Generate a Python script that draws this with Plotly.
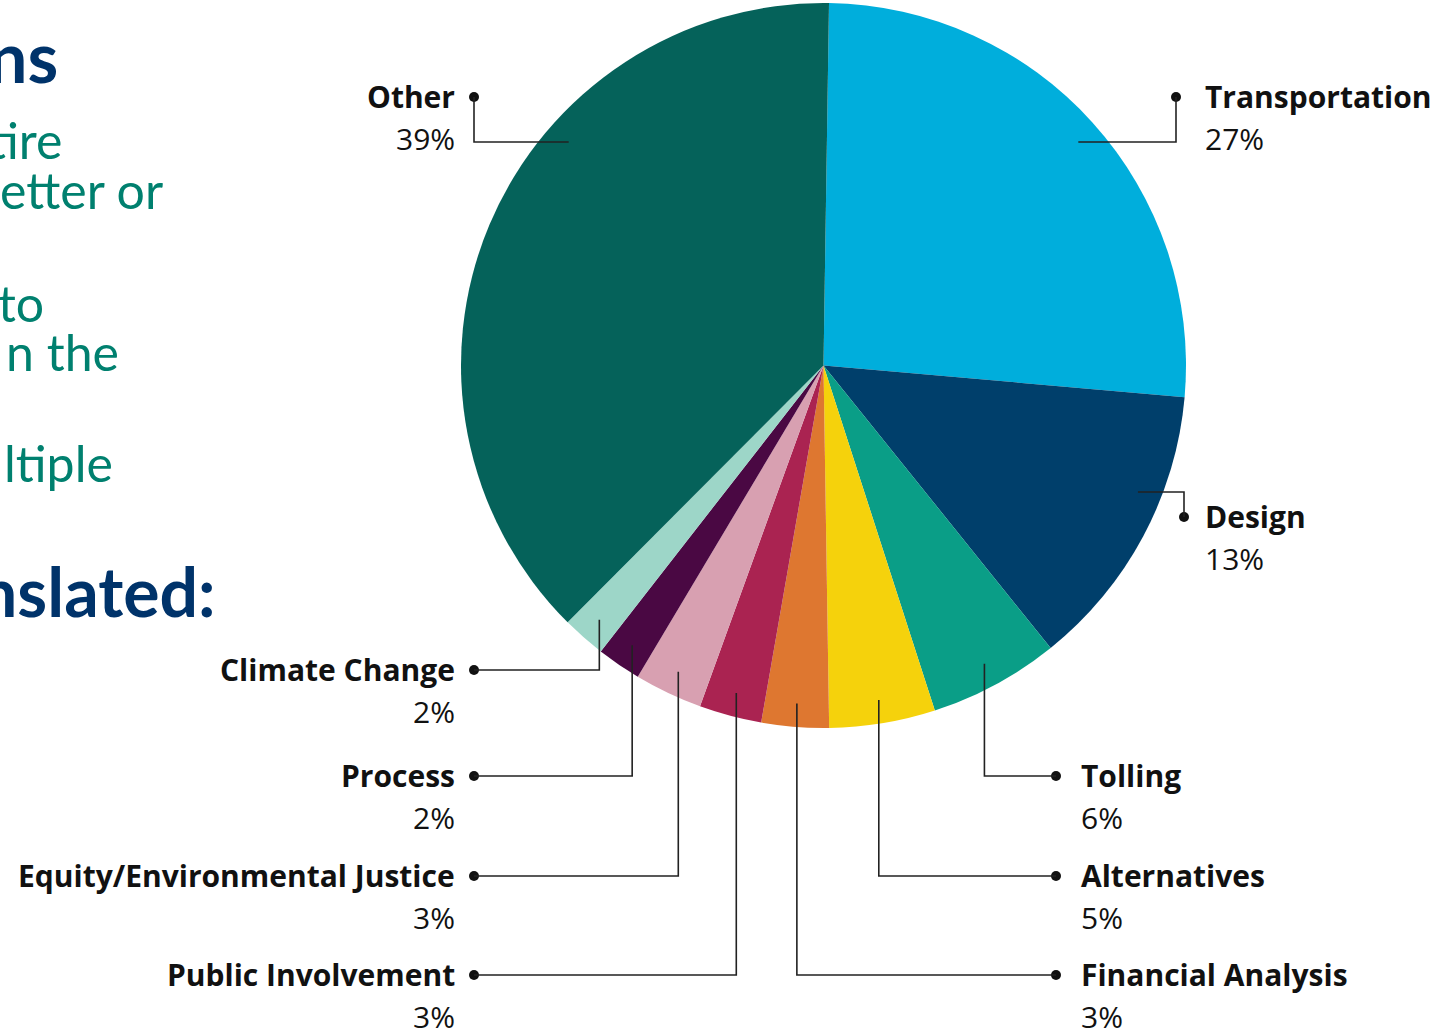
import math
import plotly.graph_objects as go

# ---------------- data ----------------
categories = ["Transportation", "Design", "Tolling", "Alternatives", "Financial Analysis",
              "Public Involvement", "Equity/Environmental Justice", "Process",
              "Climate Change", "Other"]
values = [26.15, 12.83, 5.81, 4.72, 3.00, 2.78, 3.03, 1.97, 1.94, 37.77]
pct_labels = ["27%", "13%", "6%", "5%", "3%", "3%", "3%", "2%", "2%", "39%"]
colors = ["#00AEDC", "#003F6B", "#0A9E87", "#F5D20C", "#DE7730", "#AA2351",
          "#D8A0B1", "#4A0843", "#9DD6C8", "#05625A"]

# cropped side text (visible fragments only)
side_texts = ["ns", "tire", "etter or", "to", "n the", "ltiple", "nslated:"]

# ---------------- layout constants ----------------
W, H = 1435, 1029
CX, CY, R = 823.5, 365.5, 362.5
ROT = 0.87
LABEL_FONT = "Open Sans"
SIDE_FONT = "Lato"
INK = "#111111"

# label layout: side, dot position, elbow kind/position
label_layout = {
    "Transportation": dict(side="r", dot=(1176, 97), kind="h", ey=142, tx=1203),
    "Design": dict(side="r", dot=(1184, 517), kind="h", ey=492, tx=1203),
    "Tolling": dict(side="r", dot=(1056, 776), kind="v", tx=1079),
    "Alternatives": dict(side="r", dot=(1056, 876), kind="v", tx=1079),
    "Financial Analysis": dict(side="r", dot=(1056, 975), kind="v", tx=1079),
    "Public Involvement": dict(side="l", dot=(474, 975), kind="v", tx=457),
    "Equity/Environmental Justice": dict(side="l", dot=(474, 876), kind="v", tx=457),
    "Process": dict(side="l", dot=(474, 776), kind="v", tx=457),
    "Climate Change": dict(side="l", dot=(474, 670), kind="v", tx=457),
    "Other": dict(side="l", dot=(474, 97), kind="h", ey=142, tx=457),
}

fig = go.Figure()

fig.add_trace(go.Pie(
    labels=categories, values=values, sort=False, direction="clockwise",
    rotation=ROT, marker=dict(colors=colors, line=dict(width=0)),
    textinfo="none", hoverinfo="label+percent", showlegend=False,
    domain=dict(x=[(CX - R) / W, (CX + R) / W], y=[1 - (CY + R) / H, 1 - (CY - R) / H]),
))

# leader lines computed from slice angles
total = sum(values)
cum = 0.0
frac = 0.935
shapes = []
dots_x, dots_y = [], []
annotations = []
for cat, v, pl in zip(categories, values, pct_labels):
    a0 = ROT + 360 * cum / total
    cum += v
    a1 = ROT + 360 * cum / total
    mid = math.radians((a0 + a1) / 2)
    L = label_layout[cat]
    dx, dy = L["dot"]
    rr = frac * R
    if L["kind"] == "h":
        ey = L["ey"]
        off = math.sqrt(max(rr ** 2 - (ey - CY) ** 2, 0))
        ax = CX + off if math.sin(mid) > 0 else CX - off
        path = f"M {dx},{dy} L {dx},{ey} L {ax},{ey}"
    else:
        ax = CX + rr * math.sin(mid)
        ay = CY - rr * math.cos(mid)
        path = f"M {dx},{dy} L {ax},{dy} L {ax},{ay}"
    shapes.append(dict(type="path", path=path, xref="x", yref="y",
                       line=dict(color="#222222", width=1.6), layer="above"))
    dots_x.append(dx)
    dots_y.append(dy)
    xanchor = "right" if L["side"] == "l" else "left"
    annotations.append(dict(x=L["tx"], y=dy - 1, xref="x", yref="y", text=f"<b>{cat}</b>",
                            showarrow=False, xanchor=xanchor, yanchor="middle",
                            font=dict(family=LABEL_FONT, size=30, color=INK)))
    annotations.append(dict(x=L["tx"], y=dy + 41, xref="x", yref="y", text=pl,
                            showarrow=False, xanchor=xanchor, yanchor="middle",
                            font=dict(family=LABEL_FONT, size=30, color=INK)))

fig.add_trace(go.Scatter(x=dots_x, y=dots_y, mode="markers",
                         marker=dict(size=10, color=INK), hoverinfo="skip",
                         showlegend=False, cliponaxis=False))

# cropped left paragraph fragments
NAVY = "#00336A"
TEAL = "#00806F"
side_pos = [(60, 56, 70, NAVY, True), (64, 140, 50, TEAL, False), (165, 190, 50, TEAL, False),
            (46, 303, 50, TEAL, False), (121, 352, 50, TEAL, False), (115, 463, 50, TEAL, False),
            (218, 590, 68, NAVY, True)]
for txt, (rx, cy, fs, col, bold) in zip(side_texts, side_pos):
    annotations.append(dict(x=rx, y=cy, xref="x", yref="y",
                            text=f"<b>{txt}</b>" if bold else txt,
                            showarrow=False, xanchor="right", yanchor="middle",
                            font=dict(family=SIDE_FONT, size=fs, color=col)))

fig.update_layout(
    width=W, height=H, margin=dict(l=0, r=0, t=0, b=0),
    paper_bgcolor="white", plot_bgcolor="rgba(0,0,0,0)",
    xaxis=dict(range=[0, W], visible=False, fixedrange=True),
    yaxis=dict(range=[H, 0], visible=False, fixedrange=True),
    shapes=shapes, annotations=annotations, showlegend=False,
)

fig.write_html("out.html")
